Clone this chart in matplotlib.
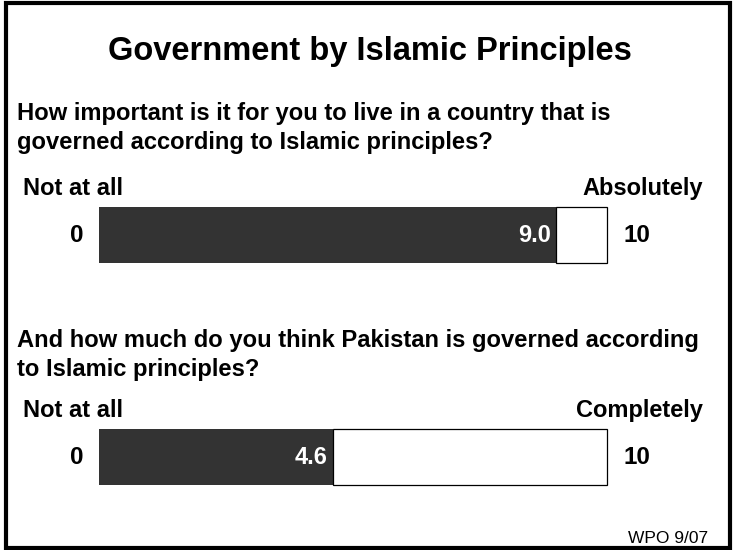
import matplotlib
matplotlib.use("Agg")
import matplotlib.pyplot as plt
from matplotlib.patches import Rectangle

# ---- data ----
title = "Government by Islamic Principles"
questions = [
    ["How important is it for you to live in a country that is",
     "governed according to Islamic principles?"],
    ["And how much do you think Pakistan is governed according",
     "to Islamic principles?"],
]
low_labels = ["Not at all", "Not at all"]
high_labels = ["Absolutely", "Completely"]
scores = [9.0, 4.6]
scale_min = 0
scale_max = 10
source = "WPO 9/07"

W, H = 733, 550
plt.rcParams['font.family'] = ['Liberation Sans', 'DejaVu Sans']
fig = plt.figure(figsize=(W / 100, H / 100), dpi=100)
fig.patch.set_facecolor('white')


def fx(x):
    return x / W


def fy(y):
    return 1 - y / H


DARK = '#333333'

# border
fig.patches.append(Rectangle((fx(5.5), fy(548)), fx(729.5) - fx(5.5), fy(2.5) - fy(548),
                             transform=fig.transFigure, fill=False,
                             edgecolor='black', linewidth=3.0, zorder=10))

fig.text(fx(370), fy(60), title, ha='center', va='baseline',
         fontsize=23.5, fontweight='bold')

# layout per section: (q line1 baseline, label baseline, bar top, bar bottom)
sections = [(120, 195, 207, 263), (347, 417, 429, 485)]

for i, (qb, lb, bt, bb) in enumerate(sections):
    for j, line in enumerate(questions[i]):
        fig.text(fx(17), fy(qb + 29 * j), line, ha='left', va='baseline',
                 fontsize=17.1, fontweight='bold')
    fig.text(fx(23), fy(lb), low_labels[i], ha='left', va='baseline',
             fontsize=17, fontweight='bold')
    fig.text(fx(703), fy(lb), high_labels[i], ha='right', va='baseline',
             fontsize=17, fontweight='bold')

    ax = fig.add_axes([fx(99), fy(bb), fx(607) - fx(99), fy(bt) - fy(bb)])
    ax.set_xlim(scale_min, scale_max)
    ax.set_ylim(-0.5, 0.5)
    ax.axis('off')
    v = scores[i]
    ax.barh(0, v - scale_min, left=scale_min, height=1.0, color=DARK, linewidth=0)
    ax.barh(0, scale_max - v, left=v, height=1.0, color='white',
            edgecolor='black', linewidth=0.9, clip_on=False)
    ax.annotate(f"{v:.1f}", xy=(v, 0), xytext=(-4, 0), textcoords='offset points',
                ha='right', va='center', color='white', fontsize=17, fontweight='bold')
    ax.annotate(str(scale_min), xy=(scale_min, 0), xytext=(-11.5, 0),
                textcoords='offset points', ha='right', va='center',
                fontsize=17.5, fontweight='bold')
    ax.annotate(str(scale_max), xy=(scale_max, 0), xytext=(12, 0),
                textcoords='offset points', ha='left', va='center',
                fontsize=17.5, fontweight='bold')

fig.text(fx(708), fy(543), source, ha='right', va='baseline', fontsize=12.5)

fig.savefig("out.png", dpi=100, facecolor='white')
